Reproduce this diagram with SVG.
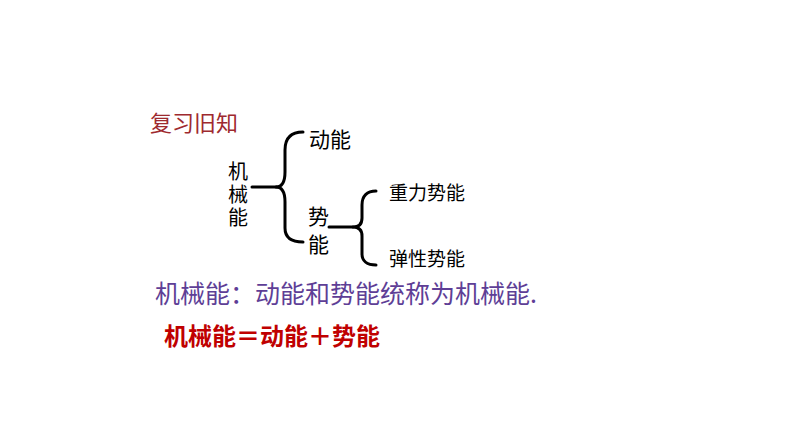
<svg xmlns="http://www.w3.org/2000/svg" width="794" height="447" viewBox="0 0 794 447">
<style>
  text { font-family: "Noto Sans CJK SC", "Noto Sans", sans-serif; }
  .lbl { fill: #000; }
  .brace { fill: none; stroke: #000; stroke-width: 3; stroke-linecap: round; stroke-linejoin: round; }
</style>
<rect width="794" height="447" fill="#fff"/>
<g id="title"><text x="150" y="131" font-size="22" fill="#9E2A2F">复习旧知</text></g>
<g id="node-jixieneng">
  <text class="lbl" x="238" y="161" font-size="20" writing-mode="vertical-rl" letter-spacing="3">机械能</text>
</g>
<g id="node-dongneng"><text class="lbl" x="309" y="147" font-size="21">动能</text></g>
<g id="node-shineng">
  <text class="lbl" x="318.5" y="206" font-size="21" writing-mode="vertical-rl" letter-spacing="7">势能</text>
</g>
<g id="node-zhongli"><text class="lbl" x="389" y="200" font-size="19">重力势能</text></g>
<g id="node-tanxing"><text class="lbl" x="389" y="266" font-size="19">弹性势能</text></g>
<g id="connectors">
  <path class="brace" d="M252,187 L277,187"/>
  <path class="brace" d="M303,132 C291,132 285,138 285,150 L285,172 C285,182 282,187 276,187 C282,187 285,192 285,202 L285,228 C285,237 291,242 303,242"/>
  <path class="brace" d="M329,227 L353,227"/>
  <path class="brace" d="M376,191 C367,191 362,196 362,205 L362,218 C362,224 359,227 353,227 C359,227 362,230 362,236 L362,254 C362,261 367,265 376,265"/>
</g>
<g id="definition"><text x="155" y="303" font-size="25" fill="#5E3E96">机械能：动能和势能统称为机械能.</text></g>
<g id="formula"><text x="164" y="345" font-size="24" font-weight="bold" fill="#C00000">机械能＝动能＋势能</text></g>
</svg>
